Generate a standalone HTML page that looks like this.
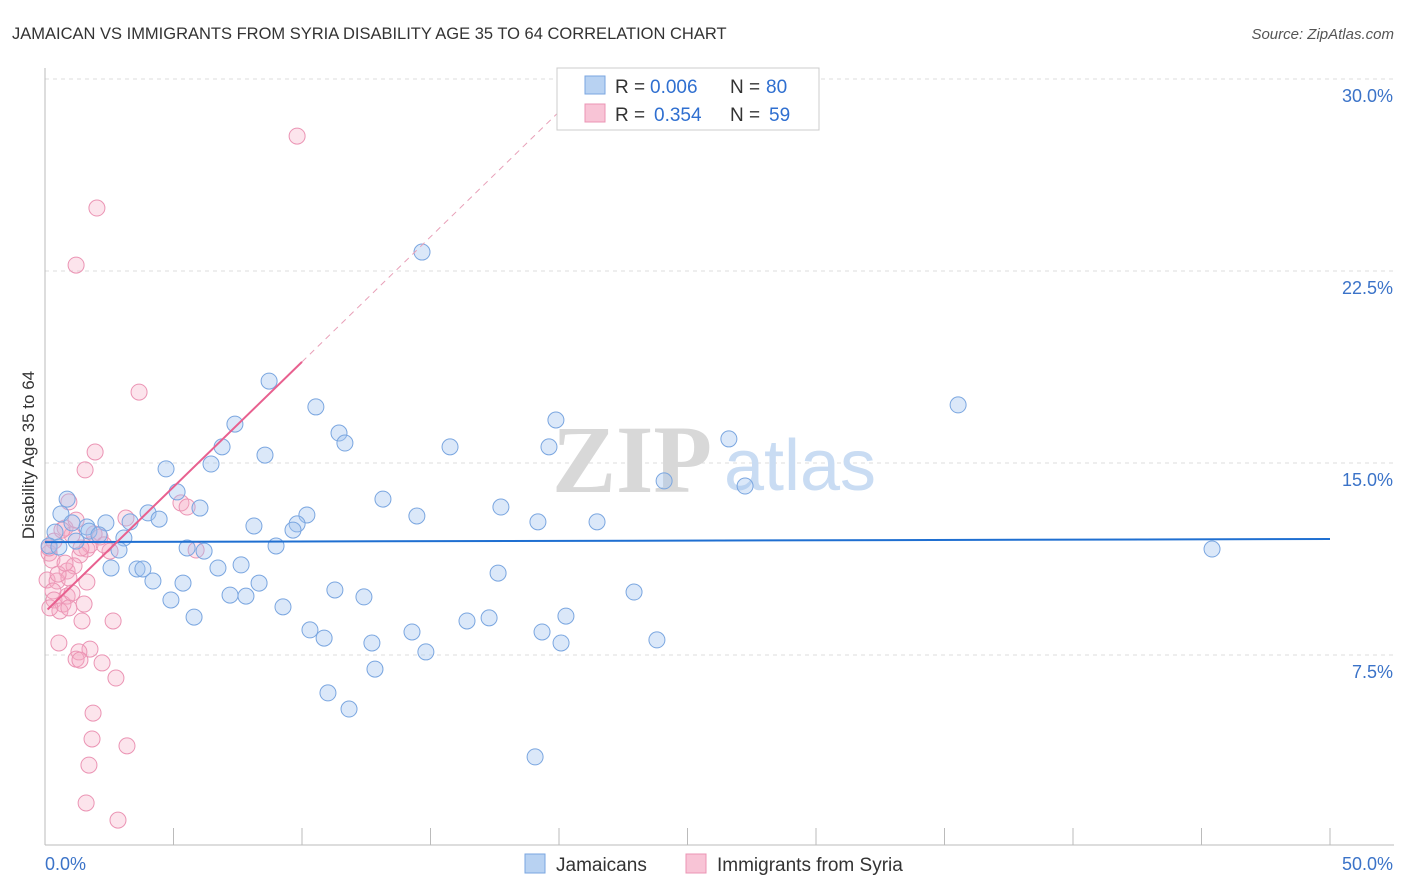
<!DOCTYPE html>
<html><head><meta charset="utf-8">
<style>
body{margin:0;background:#fff;font-family:"Liberation Sans",sans-serif;}
svg{display:block}
</style></head>
<body>
<svg id="chart" width="1406" height="892" viewBox="0 0 1406 892" xmlns="http://www.w3.org/2000/svg">
<text x="12" y="39" font-size="16.5" fill="#333">JAMAICAN VS IMMIGRANTS FROM SYRIA DISABILITY AGE 35 TO 64 CORRELATION CHART</text>
<text x="1394" y="39" font-size="15" fill="#555" font-style="italic" text-anchor="end">Source: ZipAtlas.com</text>
<g id="grid"></g>
<g>
<text x="632" y="492" font-size="96" font-family="Liberation Serif,serif" fill="#d8d8d8" text-anchor="middle" font-weight="bold">ZIP</text>
<text x="800" y="490" font-size="72" fill="#c9dcf3" text-anchor="middle">atlas</text>
</g>
<g id="axes"></g>
<g id="pinkPts"></g>
<g id="bluePts"></g>
<g id="trends"></g>
<text x="34" y="455" font-size="17" fill="#333" text-anchor="middle" transform="rotate(-90 34 455)">Disability Age 35 to 64</text>
<g>
<rect x="557" y="68" width="262" height="62" fill="#fff" stroke="#ccc"/>
<rect x="585" y="76" width="20" height="18" fill="#b8d2f2" stroke="#7aa6e0"/>
<rect x="585" y="104" width="20" height="18" fill="#f8c4d6" stroke="#eb94b4"/>
<text x="615" y="93" font-size="19" fill="#333">R =</text>
<text x="650" y="93" font-size="19" fill="#2f6fd0">0.006</text>
<text x="730" y="93" font-size="19" fill="#333">N =</text>
<text x="766" y="93" font-size="19" fill="#2f6fd0">80</text>
<text x="615" y="121" font-size="19" fill="#333">R =</text>
<text x="654" y="121" font-size="19" fill="#2f6fd0">0.354</text>
<text x="730" y="121" font-size="19" fill="#333">N =</text>
<text x="769" y="121" font-size="19" fill="#2f6fd0">59</text>
</g>
<g>
<rect x="525" y="854" width="20" height="19" fill="#b8d2f2" stroke="#7aa6e0"/>
<text x="556" y="871" font-size="19" fill="#333">Jamaicans</text>
<rect x="686" y="854" width="20" height="19" fill="#f8c4d6" stroke="#eb94b4"/>
<text x="717" y="871" font-size="19" fill="#333">Immigrants from Syria</text>
</g>
</svg>
<script>
const blueX=[14.67,8.72,35.53,10.54,19.88,7.39,11.44,11.67,26.61,15.76,19.61,6.89,8.56,4.71,6.46,24.09,27.24,5.14,0.86,13.15,17.74,6.03,4.01,10.19,0.62,14.47,19.18,21.48,4.44,3.31,2.37,1.63,8.13,9.81,1.05,9.65,0.39,1.71,2.10,3.07,1.21,0.16,0.54,8.99,45.41,5.53,6.19,2.88,2.57,3.58,3.81,6.73,7.63,4.20,5.37,8.33,17.63,11.28,12.41,7.20,7.82,4.90,22.92,9.26,20.27,5.80,16.42,17.28,10.31,14.28,19.34,10.86,12.72,20.08,23.81,14.82,12.84,11.01,11.83,19.07];
const blueY=[23.24,18.2,17.27,17.19,16.68,16.52,16.17,15.78,15.94,15.63,15.63,15.63,15.31,14.77,14.96,14.30,14.10,13.87,13.59,13.59,13.28,13.24,13.05,12.97,13.01,12.93,12.70,12.70,12.81,12.70,12.66,12.5,12.54,12.62,12.66,12.38,12.30,12.34,12.19,12.07,11.95,11.76,11.72,11.76,11.64,11.68,11.56,11.60,10.90,10.86,10.86,10.90,11.02,10.39,10.31,10.31,10.70,10.04,9.77,9.84,9.80,9.65,9.96,9.38,9.02,8.98,8.83,8.95,8.48,8.40,8.40,8.16,7.97,7.97,8.09,7.62,6.95,6.02,5.39,3.52];
const pinkX=[9.81,2.02,1.21,3.66,1.95,1.56,0.93,5.29,5.53,3.15,0.78,1.05,2.14,0.35,1.63,1.75,5.88,2.53,0.16,1.36,0.27,0.86,1.13,0.08,0.47,0.93,1.63,0.31,0.86,0.35,1.52,0.70,0.58,0.93,1.44,2.65,0.54,1.75,1.32,1.21,1.36,2.22,2.76,1.87,1.83,3.19,1.71,1.60,2.84,0.16,0.51,1.05,0.66,1.21,1.91,0.19,0.78,1.40,2.30];
const pinkY=[27.77,24.96,22.73,17.77,15.43,14.73,13.48,13.44,13.28,12.85,12.46,12.19,12.11,11.95,11.64,11.80,11.60,11.56,11.48,11.41,11.21,10.78,10.98,10.43,10.39,10.51,10.35,10.0,9.80,9.65,9.49,9.49,9.22,9.34,8.83,8.83,7.97,7.73,7.62,7.34,7.30,7.19,6.60,5.23,4.22,3.95,3.20,1.72,1.05,11.68,10.66,9.92,12.38,12.77,12.23,9.34,11.09,11.68,11.80];
const yTicks=[7.5,15.0,22.5,30.0];
const yTickLabels=["7.5%","15.0%","22.5%","30.0%"];
const xTicks=[0,5,10,15,20,25,30,35,40,45,50];
const blueTrend=[11.91,0.0024];
const pinkTrend=[9.18,0.977];
const NS="http://www.w3.org/2000/svg";
const sx=v=>45+v*25.7;
const sy=v=>847-v*25.6;
function mk(tag,attrs,parent){const e=document.createElementNS(NS,tag);for(const k in attrs)e.setAttribute(k,attrs[k]);parent.appendChild(e);return e;}
const grid=document.getElementById('grid'),axes=document.getElementById('axes');
yTicks.forEach((t,i)=>{
  const l=mk('line',{x1:45,x2:1394,y1:sy(t),y2:sy(t),stroke:'#ddd','stroke-dasharray':'4,4'},grid);
  
  
  const tx=mk('text',{x:1393,y:sy(t)+23,'font-size':18,fill:'#3b73c8','text-anchor':'end'},axes);
  tx.textContent=yTickLabels[i];
  
  
});
mk('line',{x1:45,x2:45,y1:68,y2:845,stroke:'#bbb'},axes);
mk('line',{x1:45,x2:1394,y1:845,y2:845,stroke:'#bbb'},axes);
xTicks.forEach(t=>{
  const l=mk('line',{x1:sx(t),x2:sx(t),y1:828,y2:845,stroke:'#bbb'},axes);
  
  
});
const x0=mk('text',{x:45,y:870,'font-size':18,fill:'#3b73c8'},axes);x0.textContent='0.0%';


const x1=mk('text',{x:1393,y:870,'font-size':18,fill:'#3b73c8','text-anchor':'end'},axes);x1.textContent='50.0%';


const pg=document.getElementById('pinkPts');
pinkX.forEach((x,i)=>{
  const c=mk('circle',{cx:sx(x),cy:sy(pinkY[i]),r:8,fill:'rgba(245,170,195,0.32)',stroke:'#eb94b4','stroke-width':1},pg);
  
  
});
const bg=document.getElementById('bluePts');
blueX.forEach((x,i)=>{
  const c=mk('circle',{cx:sx(x),cy:sy(blueY[i]),r:8,fill:'rgba(160,195,240,0.38)',stroke:'#7aa6e0','stroke-width':1},bg);
  
  
});
const tr=document.getElementById('trends');
const bl=mk('line',{x1:sx(0),y1:sy(blueTrend[0]),x2:sx(50),y2:sy(blueTrend[0]+50*blueTrend[1]),stroke:'#1f6fd1','stroke-width':2},tr);


const pd=mk('line',{x1:sx(10),y1:sy(pinkTrend[0]+10*pinkTrend[1]),x2:sx(20.8),y2:sy(pinkTrend[0]+20.8*pinkTrend[1]),stroke:'#e8a0b8','stroke-width':1,'stroke-dasharray':'6,5'},tr);


const pl=mk('line',{x1:sx(0.1),y1:sy(pinkTrend[0]+0.1*pinkTrend[1]),x2:sx(10),y2:sy(pinkTrend[0]+10*pinkTrend[1]),stroke:'#e8608f','stroke-width':2},tr);


</script>
</body></html>
